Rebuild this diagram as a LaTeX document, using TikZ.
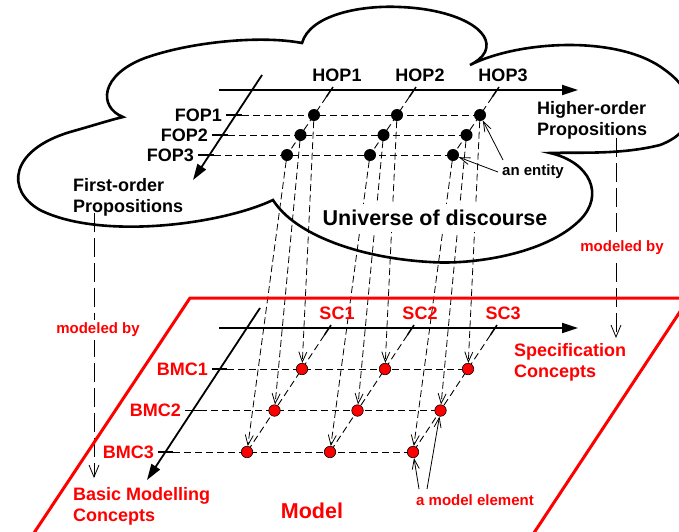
\documentclass[tikz,border=0pt]{standalone}
\usepackage{fontspec}
\setmainfont{Liberation Sans}
\usetikzlibrary{arrows.meta, positioning, calc}
\definecolor{ModelRed}{HTML}{FF0000}
\pgfdeclarelayer{background}
\pgfsetlayers{background,main}

\tikzset{
  lab/.style={font=\fontsize{18}{21}\selectfont\bfseries, inner sep=0pt},
  smalllab/.style={font=\fontsize{15}{18}\selectfont\bfseries, inner sep=0pt},
  biglab/.style={font=\fontsize{21.5}{25}\selectfont\bfseries, inner sep=0pt},
  entitydot/.style={circle, fill=black, inner sep=0pt, minimum size=12pt},
  elementdot/.style={circle, fill=ModelRed, draw=black, line width=0.6pt, inner sep=0pt, minimum size=11.5pt},
  axisline/.style={line width=1.8pt, -{Triangle[length=16pt,width=10pt]}},
  axistick/.style={line width=1.5pt},
  gridline/.style={line width=0.9pt, dash pattern=on 7pt off 4pt},
  projection/.style={line width=0.8pt, dash pattern=on 7pt off 3.5pt, -{Straight Barb[length=10pt,width=8pt]}},
  modeledby/.style={line width=0.8pt, dash pattern=on 19pt off 6pt, -{Straight Barb[length=12pt,width=10pt]}},
  pointer/.style={line width=0.8pt, -{Straight Barb[length=10pt,width=7pt]}}
}

\begin{document}
\begin{tikzpicture}[x=1pt, y=-1pt]
    \useasboundingbox (0,0) rectangle (679,531);
    \clip (0,0) rectangle (679,531);

    % Universe of discourse (cloud)
    \draw[line width=2.6pt]
        (123,117) .. controls (98,107) and (100,75) .. (145,58)
        .. controls (190,42) and (260,35) .. (302,43)
        .. controls (310,15) and (360,5) .. (400,7)
        .. controls (455,9) and (495,30) .. (485,52)
        .. controls (482,58) and (476,62) .. (470,65)
        .. controls (520,40) and (620,35) .. (665,70)
        .. controls (700,95) and (700,130) .. (660,145)
        .. controls (620,155) and (580,152) .. (550,153)
        .. controls (590,162) and (605,195) .. (580,220)
        .. controls (545,255) and (470,265) .. (430,262)
        .. controls (360,258) and (295,235) .. (273,200)
        .. controls (220,225) and (100,240) .. (40,210)
        .. controls (5,190) and (10,150) .. (70,132)
        .. controls (95,125) and (110,120) .. (123,117) -- cycle;

    % Model plane
    \draw[ModelRed, line width=3pt] (20,554) -- (190,298) -- (689,298) -- (520,554);

    % Axes of the universe
    \coordinate (hopstart) at (219,90);
    \coordinate (hopend) at (578,90);
    \coordinate (fopstart) at (262,75);
    \coordinate (fopend) at (193,180);
    \draw[axisline] (hopstart) -- (hopend);
    \draw[axisline] (fopstart) -- (fopend);

    % Axes of the model
    \coordinate (scstart) at (219,328);
    \coordinate (scend) at (578,328);
    \coordinate (bmcstart) at (260,308);
    \coordinate (bmcend) at (147,480);
    \draw[axisline] (scstart) -- (scend);
    \draw[axisline] (bmcstart) -- (bmcend);

    % Proposition labels
    \coordinate (h1) at (333,87);  \coordinate (h1e) at (326.25,97);
    \coordinate (h2) at (416,87);  \coordinate (h2e) at (409.25,97);
    \coordinate (h3) at (499,87);  \coordinate (h3e) at (492.25,97);
    \node[lab, anchor=base] (hop1) at (337,81) {HOP1};
    \node[lab, anchor=base] (hop2) at (420,81) {HOP2};
    \node[lab, anchor=base] (hop3) at (503,81) {HOP3};

    \coordinate (f1) at (226,115);  \coordinate (f1e) at (242,115);
    \coordinate (f2) at (212,135);  \coordinate (f2e) at (228,135);
    \coordinate (f3) at (198,155);  \coordinate (f3e) at (214,155);
    \node[lab, left=4pt of f1] (fop1) {FOP1};
    \node[lab, left=4pt of f2] (fop2) {FOP2};
    \node[lab, left=4pt of f3] (fop3) {FOP3};

    % Concept labels
    \coordinate (s1) at (331,325);  \coordinate (s1e) at (324.4,335);
    \coordinate (s2) at (414,325);  \coordinate (s2e) at (407.4,335);
    \coordinate (s3) at (497,325);  \coordinate (s3e) at (490.4,335);
    \node[lab, ModelRed, anchor=base] (sc1) at (337,319) {SC1};
    \node[lab, ModelRed, anchor=base] (sc2) at (420,319) {SC2};
    \node[lab, ModelRed, anchor=base] (sc3) at (503,319) {SC3};

    \coordinate (b1) at (212,369);    \coordinate (b1e) at (227,369);
    \coordinate (b2) at (185,410.5);  \coordinate (b2e) at (200,410.5);
    \coordinate (b3) at (158,452);    \coordinate (b3e) at (173,452);
    \node[lab, ModelRed, left=4pt of b1] (bmc1) {BMC1};
    \node[lab, ModelRed, left=4pt of b2] (bmc2) {BMC2};
    \node[lab, ModelRed, left=4pt of b3] (bmc3) {BMC3};

    % Names
    \node[lab, align=left, anchor=north west] (fopname) at (73,178) {First-order\\Propositions};
    \node[lab, align=left, anchor=north west] (hopname) at (537,101) {Higher-order\\Propositions};
    \node[biglab, fill=white, inner xsep=2pt, inner ysep=6pt] (universe) at (435,218) {Universe of discourse};
    \node[smalllab] (entitylab) at (533,172) {an entity};
    \node[smalllab, ModelRed, fill=white, inner ysep=3pt] (modleft) at (98,330) {modeled by};
    \node[smalllab, ModelRed, fill=white, inner ysep=3pt] (modright) at (622,248) {modeled by};
    \node[lab, ModelRed, align=left, anchor=north west] (scname) at (514,343) {Specification\\Concepts};
    \node[lab, ModelRed, align=left, anchor=north west] (bmcname) at (73,487) {Basic Modelling\\Concepts};
    \node[biglab, ModelRed] (model) at (312,511) {Model};
    \node[smalllab, ModelRed] (elemlab) at (475,500) {a model element};

    % Entities
    \node[entitydot] (t11) at (314,115) {};
    \node[entitydot] (t12) at (397,115) {};
    \node[entitydot] (t13) at (480,115) {};
    \node[entitydot] (t21) at (300.5,135) {};
    \node[entitydot] (t22) at (383.5,135) {};
    \node[entitydot] (t23) at (466.5,135) {};
    \node[entitydot] (t31) at (287,155) {};
    \node[entitydot] (t32) at (370,155) {};
    \node[entitydot] (t33) at (453,155) {};

    % Model elements
    \node[elementdot] (m11) at (302,369) {};
    \node[elementdot] (m12) at (385,369) {};
    \node[elementdot] (m13) at (468,369) {};
    \node[elementdot] (m21) at (274.5,410.5) {};
    \node[elementdot] (m22) at (357.5,410.5) {};
    \node[elementdot] (m23) at (440.5,410.5) {};
    \node[elementdot] (m31) at (247,452) {};
    \node[elementdot] (m32) at (330,452) {};
    \node[elementdot] (m33) at (413,452) {};

    % Pointer ends
    \coordinate (ent1) at (503,160);
    \coordinate (ent2) at (498,172);
    \coordinate (elm1) at (419,489);
    \coordinate (elm2) at (427,489);
    \coordinate (mlstart) at (94,213);
    \coordinate (mlend) at (94,478);
    \coordinate (mrstart) at (616,138);
    \coordinate (mrend) at (616,338);

    \begin{pgfonlayer}{background}
        % Grid of the universe
        \draw[axistick] (f1) -- (f1e);  \draw[gridline] (f1e) -- (t13.center);
        \draw[axistick] (f2) -- (f2e);  \draw[gridline] (f2e) -- (t23.center);
        \draw[axistick] (f3) -- (f3e);  \draw[gridline] (f3e) -- (t33.center);
        \draw[axistick] (h1) -- (h1e);  \draw[gridline] (h1e) -- (t31.center);
        \draw[axistick] (h2) -- (h2e);  \draw[gridline] (h2e) -- (t32.center);
        \draw[axistick] (h3) -- (h3e);  \draw[gridline] (h3e) -- (t33.center);

        % Grid of the model
        \draw[axistick] (b1) -- (b1e);  \draw[gridline] (b1e) -- (m13.center);
        \draw[axistick] (b2) -- (b2e);  \draw[gridline] (b2e) -- (m23.center);
        \draw[axistick] (b3) -- (b3e);  \draw[gridline] (b3e) -- (m33.center);
        \draw[axistick] (s1) -- (s1e);  \draw[gridline] (s1e) -- (m31.center);
        \draw[axistick] (s2) -- (s2e);  \draw[gridline] (s2e) -- (m32.center);
        \draw[axistick] (s3) -- (s3e);  \draw[gridline] (s3e) -- (m33.center);

        % Entities modeled by elements
        \draw[projection] (t11) -- (m11);
        \draw[projection] (t12) -- (m12);
        \draw[projection] (t13) -- (m13);
        \draw[projection] (t21) -- (m21);
        \draw[projection] (t22) -- (m22);
        \draw[projection] (t23) -- (m23);
        \draw[projection] (t31) -- (m31);
        \draw[projection] (t32) -- (m32);
        \draw[projection] (t33) -- (m33);

        % Modeled by
        \draw[modeledby] (mlstart) -- (mlend);
        \draw[modeledby] (mrstart) -- (mrend);

        % Pointers
        \draw[pointer] (ent1) -- (t13);
        \draw[pointer] (ent2) -- (t33);
        \draw[pointer] (elm1) -- (m33);
        \draw[pointer] (elm2) -- (m23);
    \end{pgfonlayer}
\end{tikzpicture}
\end{document}
